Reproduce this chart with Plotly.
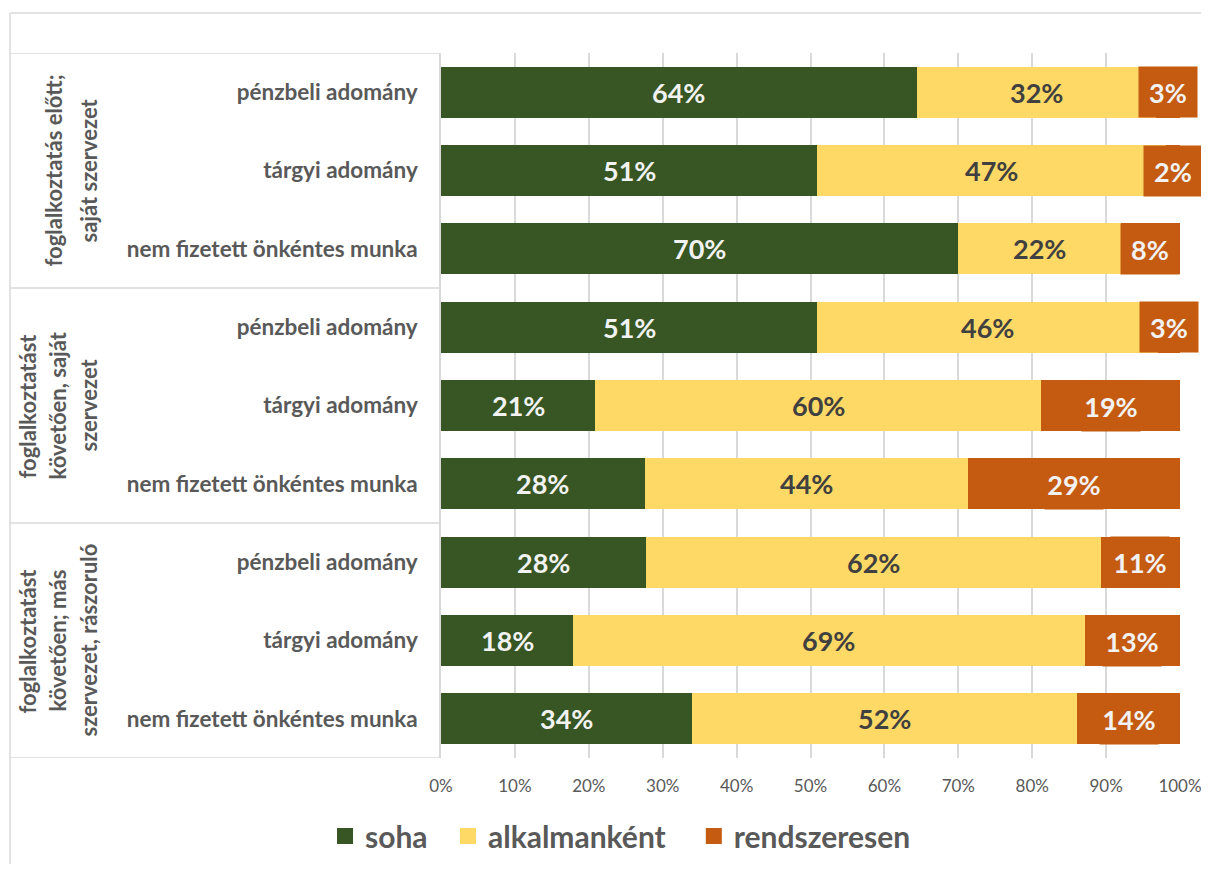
import plotly.graph_objects as go

# ---- data ----
groups = [
    ["foglalkoztatás előtt;", "saját szervezet"],
    ["foglalkoztatást", "követően, saját", "szervezet"],
    ["foglalkoztatást", "követően; más", "szervezet, rászoruló"],
]
items = ["pénzbeli adomány", "tárgyi adomány", "nem fizetett önkéntes munka"]
series_names = ["soha", "alkalmanként", "rendszeresen"]
soha = [64.4, 50.9, 70.0, 50.9, 20.9, 27.6, 27.7, 17.9, 34.0]
alkalmankent = [32.4, 47.2, 22.0, 46.1, 60.3, 43.7, 61.6, 69.2, 52.1]
rendszeresen = [3.2, 1.9, 8.0, 3.0, 18.8, 28.7, 10.7, 12.9, 13.9]
x_ticks = [0, 10, 20, 30, 40, 50, 60, 70, 80, 90, 100]

colors = ["#375623", "#FFD966", "#C55A11"]
text_colors = ["#F2F2F2", "#404040", "#F2F2F2"]
FONT = "Lato"
GRAY = "#595959"
GRID = "#D9D9D9"

# page has an 8px body margin -> figure is drawn at (8, 8)
OFF = 8
W, H = 1209 - OFF, 872 - 2 * OFF
ML = 441 - OFF
MR = W - (1180 - OFF)
MT = 53 - OFF
MB = H - (758 - OFF)
PW = W - ML - MR
PH = H - MT - MB


def px_x(p):
    """screen x pixel -> paper x"""
    return (p - OFF - ML) / PW


def px_y(p):
    """screen y pixel -> paper y"""
    return (H - MB - (p - OFF)) / PH


n_items = len(items)
row_labels = [it for g in groups for it in items]
ypos = list(range(len(row_labels)))
all_series = [soha, alkalmankent, rendszeresen]

fig = go.Figure()
for name, vals, col in zip(series_names, all_series, colors):
    fig.add_trace(go.Bar(
        y=ypos, x=vals, name=name, orientation="h",
        marker=dict(color=col, line=dict(width=0)),
        hoverinfo="skip", showlegend=False,
    ))
# legend entries (square markers)
legend_pad = [2, 3, 2]
for name, col, pad in zip(series_names, colors, legend_pad):
    fig.add_trace(go.Scatter(
        x=[None], y=[None], mode="markers",
        name=f"<b>{name}</b>" + "\u00a0" * pad,
        marker=dict(symbol="square", size=16, color=col),
        showlegend=True,
    ))

annotations = []
# data labels
for si, vals in enumerate(all_series):
    for i, v in enumerate(vals):
        base = sum(all_series[k][i] for k in range(si))
        ann = dict(
            x=base + v / 2, y=ypos[i], xref="x", yref="y",
            text=f"<b>{v:.0f}%</b>", showarrow=False,
            font=dict(family=FONT, size=27, color=text_colors[si]),
            xanchor="center", yanchor="middle",
        )
        if si == 2:
            ann.update(bgcolor=colors[si], width=56, height=48)
        annotations.append(ann)

# group labels (rotated), one annotation per line
group_centers_px = [[53, 88], [27, 57, 88], [27, 57, 88]]
for gi, lines in enumerate(groups):
    ymid = gi * n_items + (n_items - 1) / 2
    for li, line in enumerate(lines):
        annotations.append(dict(
            x=px_x(group_centers_px[gi][li]), y=ymid, xref="paper", yref="y",
            text=f"<b>{line}</b>", showarrow=False, textangle=-90,
            font=dict(family=FONT, size=22, color=GRAY),
            xanchor="center", yanchor="middle",
        ))

shapes = []
line_style = dict(color=GRID, width=1.5)
# table separators
for gi in range(len(groups) + 1):
    yb = gi * n_items - 0.5
    shapes.append(dict(type="line", xref="paper", yref="y",
                       x0=px_x(10), x1=0, y0=yb, y1=yb, line=line_style))
# outer frame
shapes.append(dict(type="line", xref="paper", yref="paper",
                   x0=px_x(10), x1=px_x(1215), y0=px_y(13), y1=px_y(13), line=line_style))
shapes.append(dict(type="line", xref="paper", yref="paper",
                   x0=px_x(10), x1=px_x(10), y0=px_y(13), y1=px_y(880), line=line_style))

fig.update_layout(
    barmode="stack",
    bargap=0.345,
    width=W, height=H,
    margin=dict(l=ML, r=MR, t=MT, b=MB, pad=0, autoexpand=False),
    plot_bgcolor="white", paper_bgcolor="white",
    font=dict(family=FONT, color=GRAY),
    xaxis=dict(
        range=[0, 100], tickvals=x_ticks, ticktext=[f"{t}%" for t in x_ticks],
        showgrid=True, gridcolor=GRID, gridwidth=1.5,
        zeroline=False, showline=False, automargin=False,
        tickfont=dict(family=FONT, size=17, color=GRAY),
        ticks="", ticklabelstandoff=16, ticklabeloverflow="allow",
    ),
    yaxis=dict(
        range=[len(row_labels) - 0.5, -0.5],
        tickvals=ypos, ticktext=[f"<b>{t}</b>" for t in row_labels],
        tickfont=dict(family=FONT, size=22.5, color=GRAY),
        showgrid=False, zeroline=False, automargin=False,
        showline=True, linecolor=GRID, linewidth=1.5,
        ticks="", ticklabelstandoff=17,
    ),
    legend=dict(
        orientation="h", x=px_x(325), xanchor="left", y=px_y(836), yanchor="middle",
        font=dict(family=FONT, size=30, color=GRAY),
        itemwidth=30, traceorder="normal",
    ),
    annotations=annotations,
    shapes=shapes,
    showlegend=True,
)
fig.write_html("out.html")
